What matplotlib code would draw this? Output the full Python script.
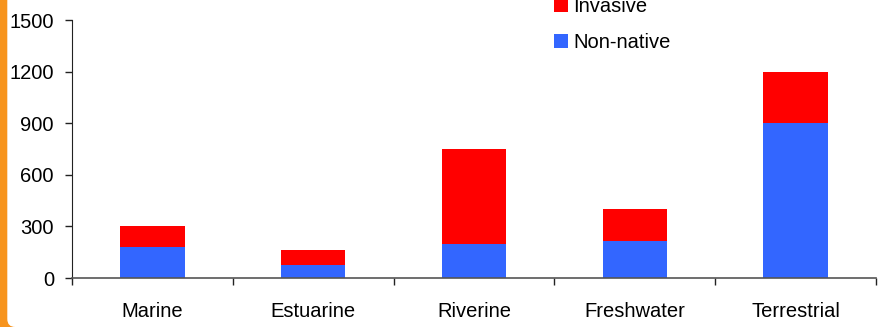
import matplotlib
matplotlib.use("Agg")
import matplotlib.pyplot as plt
from matplotlib.patches import Rectangle, FancyBboxPatch, Patch
from matplotlib.transforms import IdentityTransform
import numpy as np

plt.rcParams['font.family'] = ['Liberation Sans', 'DejaVu Sans']

categories = ['Marine', 'Estuarine', 'Riverine', 'Freshwater', 'Terrestrial']
non_native = [180, 75, 200, 215, 900]
invasive = [120, 85, 550, 185, 300]

RED = '#FF0000'
BLUE = '#3366FF'
ORANGE = '#F7941D'
FS = 14.5

fig = plt.figure(figsize=(8.83, 3.27), dpi=100)
W, H = 883, 327

# slide frame: orange strip on the left with rounded white content area
fig.patches.append(Rectangle((0, 0), 20, H, transform=IdentityTransform(),
                             facecolor=ORANGE, edgecolor='none', zorder=-2))
fig.patches.append(FancyBboxPatch((7.3, 0), 900, 360, transform=IdentityTransform(),
                                  boxstyle='round,pad=0,rounding_size=8',
                                  facecolor='white', edgecolor='none', zorder=-1))

ax = fig.add_axes([72 / W, 49 / H, (876 - 72) / W, (307 - 49) / H])
ax.patch.set_alpha(0)

x = np.arange(len(categories))
ax.bar(x, non_native, width=0.4, color=BLUE, label='Non-native', zorder=2)
ax.bar(x, invasive, width=0.4, bottom=non_native, color=RED, label='Invasive', zorder=2)

ax.set_xlim(-0.5, len(categories) - 0.5)
ax.set_ylim(0, 1500)
ax.set_yticks([0, 300, 600, 900, 1200, 1500])

ax.set_xticks(x)
ax.set_xticklabels(categories)
ax.set_xticks(np.arange(len(categories) + 1) - 0.5, minor=True)
ax.tick_params(axis='x', which='major', length=0, pad=17, labelsize=FS)
ax.tick_params(axis='x', which='minor', length=5, width=1, direction='out', color='#222222')
ax.tick_params(axis='y', length=5, width=1, direction='out', pad=8, labelsize=FS, color='#222222')

for side in ['top', 'right']:
    ax.spines[side].set_visible(False)
ax.spines['left'].set_color('#222222')
ax.spines['bottom'].set_color('#555555')
ax.spines['bottom'].set_linewidth(1.2)
for sp in ax.spines.values():
    sp.set_zorder(3)

handles = [Patch(facecolor=RED, label='Invasive'), Patch(facecolor=BLUE, label='Non-native')]
fig.legend(handles=handles, loc='upper left', bbox_to_anchor=(554 / W, 1 + 3 / H),
           frameon=False, fontsize=FS, handlelength=0.7, handleheight=0.7,
           handletextpad=0.25, labelspacing=0.85, borderaxespad=0, borderpad=0)

fig.savefig('out.png', dpi=100)
